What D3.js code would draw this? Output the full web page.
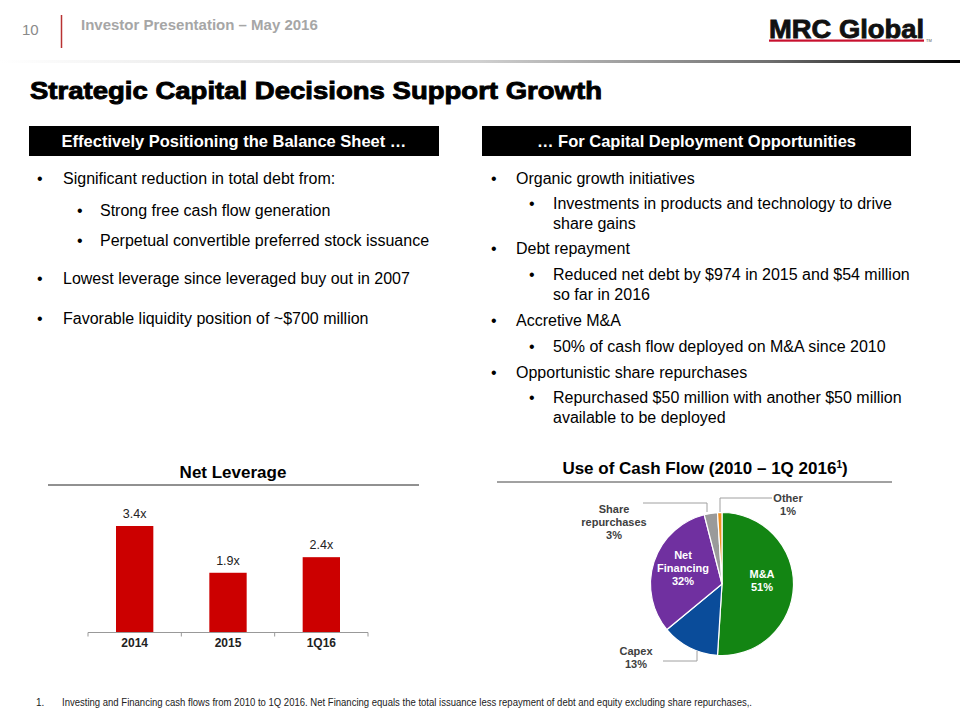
<!DOCTYPE html>
<html><head><meta charset="utf-8">
<script src="https://cdn.jsdelivr.net/npm/d3@7"></script>
<style>
html,body{margin:0;padding:0;background:#fff;}
svg{display:block;font-family:"Liberation Sans",Arial,sans-serif;}
</style></head>
<body>
<svg id="c" width="960" height="720"></svg>
<script>
// ---- data ----
const leverageCategories = ["2014", "2015", "1Q16"];
const leverageValues = [3.4, 1.9, 2.4];
const leverageLabels = ["3.4x", "1.9x", "2.4x"];

const cashCategories = ["M&A", "Capex", "Net Financing", "Share repurchases", "Other"];
const cashValues = [51, 13, 32, 3, 1];
const cashColors = ["#138513", "#0a4c9a", "#7030a0", "#9a9a9a", "#f0901e"];

const leftBullets = [
  {lvl:0, lines:["Significant reduction in total debt from:"]},
  {lvl:1, lines:["Strong free cash flow generation"]},
  {lvl:1, lines:["Perpetual convertible preferred stock issuance"]},
  {lvl:0, lines:["Lowest leverage since leveraged buy out in 2007"]},
  {lvl:0, lines:["Favorable liquidity position of ~$700 million"]}
];
const rightBullets = [
  {lvl:0, lines:["Organic growth initiatives"]},
  {lvl:1, lines:["Investments in products and technology to drive","share gains"]},
  {lvl:0, lines:["Debt repayment"]},
  {lvl:1, lines:["Reduced net debt by $974 in 2015 and $54 million","so far in 2016"]},
  {lvl:0, lines:["Accretive M&A"]},
  {lvl:1, lines:["50% of cash flow deployed on M&A since 2010"]},
  {lvl:0, lines:["Opportunistic share repurchases"]},
  {lvl:1, lines:["Repurchased $50 million with another $50 million","available to be deployed"]}
];

const svg = d3.select("#c");

// ---- header ----
const defs = svg.append("defs");
const grad = defs.append("linearGradient").attr("id","hdrGrad").attr("x1","0").attr("x2","1").attr("y1","0").attr("y2","0");
grad.append("stop").attr("offset","0").attr("stop-color","#ffffff");
grad.append("stop").attr("offset","0.5").attr("stop-color","#d0d0d0");
grad.append("stop").attr("offset","0.8").attr("stop-color","#707070");
grad.append("stop").attr("offset","1").attr("stop-color","#000000");
svg.append("rect").attr("x",0).attr("y",60).attr("width",960).attr("height",3).attr("fill","url(#hdrGrad)");

svg.append("text").attr("x",22).attr("y",35).attr("font-size",15).attr("fill","#8a8a8a").text("10");
svg.append("line").attr("x1",61.5).attr("x2",61.5).attr("y1",15).attr("y2",48).attr("stroke","#b83232").attr("stroke-width",1.5);
svg.append("text").attr("x",81).attr("y",30).attr("font-size",15).attr("font-weight","bold").attr("fill","#a6a6a6").text("Investor Presentation – May 2016");

// logo
svg.append("text").attr("x",769).attr("y",38).attr("font-size",25).attr("font-weight","bold").attr("fill","#111")
  .attr("textLength",155).attr("lengthAdjust","spacingAndGlyphs").attr("stroke","#111").attr("stroke-width",0.8).text("MRC Global");
svg.append("rect").attr("x",769).attr("y",39.5).attr("width",155).attr("height",2.2).attr("fill","#c8102e");
svg.append("text").attr("x",926).attr("y",42).attr("font-size",4).attr("fill","#555").text("TM");

// title
svg.append("text").attr("x",30).attr("y",99).attr("font-size",24).attr("font-weight","bold").attr("fill","#000")
  .attr("stroke","#000").attr("stroke-width",0.9).attr("textLength",572).attr("lengthAdjust","spacingAndGlyphs")
  .text("Strategic Capital Decisions Support Growth");

// black banners
function banner(x, w, label){
  svg.append("rect").attr("x",x).attr("y",126).attr("width",w).attr("height",30).attr("fill","#000");
  svg.append("text").attr("x",x+w/2).attr("y",147).attr("text-anchor","middle").attr("font-size",16.5)
    .attr("font-weight","bold").attr("fill","#fff").text(label);
}
banner(29, 410, "Effectively Positioning the Balance Sheet …");
banner(482, 429, "… For Capital Deployment Opportunities");

// bullets
function bullets(items, ys, bx0, tx0, bx1, tx1, lineGap){
  let i = 0;
  items.forEach(it => {
    const bx = it.lvl ? bx1 : bx0, tx = it.lvl ? tx1 : tx0;
    const y = ys[i];
    svg.append("text").attr("x",bx).attr("y",y).attr("font-size",16).attr("fill","#000").text("•");
    it.lines.forEach((ln, k) => {
      svg.append("text").attr("x",tx).attr("y",y + k*lineGap).attr("font-size",16).attr("fill","#000").text(ln);
    });
    i++;
  });
}
bullets(leftBullets, [184, 216, 246, 284, 324], 37, 63, 77, 100, 20);
bullets(rightBullets, [184, 209, 254, 280, 326, 352, 378, 403], 491, 516, 529, 553, 20);

// ---- bar chart ----
svg.append("text").attr("x",233).attr("y",478).attr("text-anchor","middle").attr("font-size",17).attr("font-weight","bold").text("Net Leverage");
svg.append("line").attr("x1",48).attr("x2",419).attr("y1",485).attr("y2",485).attr("stroke","#222").attr("stroke-width",1);

const bx = d3.scaleBand().domain(leverageCategories).range([88, 368]).paddingInner(0.6).paddingOuter(0.3);
const by = d3.scaleLinear().domain([0, 3.4]).range([632, 526]);

svg.append("g").selectAll("rect").data(leverageValues).join("rect")
  .attr("x",(d,i)=>bx(leverageCategories[i])).attr("width",bx.bandwidth())
  .attr("y",d=>by(d)).attr("height",d=>by(0)-by(d)).attr("fill","#cc0000");

svg.append("g").selectAll("text").data(leverageValues).join("text")
  .attr("x",(d,i)=>bx(leverageCategories[i])+bx.bandwidth()/2).attr("y",d=>by(d)-8)
  .attr("text-anchor","middle").attr("font-size",12.5).attr("fill","#222").text((d,i)=>leverageLabels[i]);

// axis with boundary ticks
const step = bx.step();
const axG = svg.append("g");
axG.append("line").attr("x1",88).attr("x2",368).attr("y1",632.5).attr("y2",632.5).attr("stroke","#999");
d3.range(leverageCategories.length+1).forEach(i=>{
  const x = 88 + i*(280/leverageCategories.length);
  axG.append("line").attr("x1",x).attr("x2",x).attr("y1",632.5).attr("y2",636.5).attr("stroke","#999");
});
axG.selectAll("text.cat").data(leverageCategories).join("text").attr("class","cat")
  .attr("x",d=>bx(d)+bx.bandwidth()/2).attr("y",647).attr("text-anchor","middle")
  .attr("font-size",12).attr("font-weight","bold").attr("fill","#222").text(d=>d);

// ---- pie ----
const t = svg.append("text").attr("x",705).attr("y",474).attr("text-anchor","middle").attr("font-size",17).attr("font-weight","bold");
t.append("tspan").text("Use of Cash Flow (2010 – 1Q 2016");
t.append("tspan").attr("font-size",10).attr("dy",-6).text("1");
t.append("tspan").attr("dy",6).text(")");
svg.append("line").attr("x1",497).attr("x2",892).attr("y1",482).attr("y2",482).attr("stroke","#444").attr("stroke-width",1);

const cx = 722, cy = 584, r = 71.5;
const pie = d3.pie().sort(null).value(d=>d);
const arcs = pie(cashValues);
const arc = d3.arc().innerRadius(0).outerRadius(r);
const pg = svg.append("g").attr("transform",`translate(${cx},${cy})`);
pg.selectAll("path").data(arcs).join("path").attr("d",arc)
  .attr("fill",(d,i)=>cashColors[i]).attr("stroke","#fff").attr("stroke-width",1.2);

// inside labels
function lbl(x, y, lines, color, size){
  const tx = svg.append("text").attr("text-anchor","middle").attr("font-size",size).attr("font-weight","bold").attr("fill",color);
  lines.forEach((l,k)=>tx.append("tspan").attr("x",x).attr("y",y+k*13).text(l));
}
lbl(762, 578, ["M&A", cashValues[0]+"%"], "#fff", 11);
lbl(683, 559, ["Net", "Financing", cashValues[2]+"%"], "#fff", 11);
lbl(614, 513, ["Share", "repurchases", cashValues[3]+"%"], "#404040", 11);
lbl(788, 502, ["Other", cashValues[4]+"%"], "#404040", 11);
lbl(636, 655, ["Capex", cashValues[1]+"%"], "#404040", 11);

// leader lines
const ll = svg.append("g").attr("fill","none").attr("stroke","#a0a0a0").attr("stroke-width",1);
ll.append("polyline").attr("points","643,503 707,503 707,512");
ll.append("polyline").attr("points","772,498 720,498 720,512");
ll.append("polyline").attr("points","663,661 697,661 697,651");

// footnote
svg.append("text").attr("x",36).attr("y",706).attr("font-size",10).attr("fill","#222").text("1.");
svg.append("text").attr("x",62).attr("y",706).attr("font-size",10).attr("fill","#222")
  .attr("textLength",690).attr("lengthAdjust","spacingAndGlyphs")
  .text("Investing and Financing cash flows from 2010 to 1Q 2016.  Net Financing equals the total issuance less repayment of debt and equity excluding share repurchases,.");
</script>
</body></html>
